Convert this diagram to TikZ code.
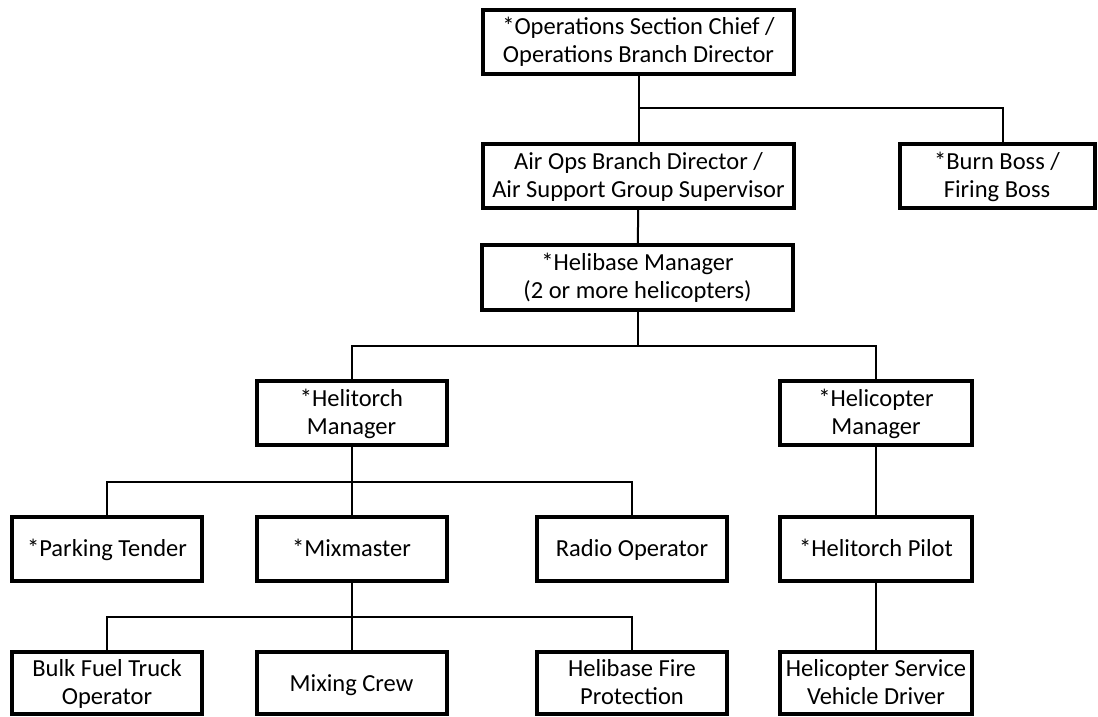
\documentclass[tikz,border=0pt]{standalone}
\usepackage{fontspec}
\setmainfont{Carlito}
\begin{document}
\begin{tikzpicture}[x=1pt,y=-1pt,
        box/.style={draw,line width=4pt,align=center,inner sep=0pt,
            minimum height=64pt,font=\fontsize{24.5}{28}\selectfont,
            text height=24pt,text depth=8pt},
        twoline/.style={text height=50pt},
        wide/.style={box,twoline,minimum width=311pt},
        small/.style={box,minimum width=190pt},
        link/.style={line width=2pt}]
\useasboundingbox (0,0) rectangle (1098,717);

\node[wide] (ops) at (638.5,42) {*Operations Section Chief /\\Operations Branch Director};
\node[wide] (airops) at (638.5,176) {Air Ops Branch Director /\\Air Support Group Supervisor};
\node[box,twoline,minimum width=195pt] (burn) at (997,176) {*Burn Boss /\\Firing Boss};
\node[wide,minimum height=65pt] (helibase) at (637.5,277.5) {*Helibase Manager\\(2 or more helicopters)};

\node[small,twoline] (helitorch) at (351.5,413) {*Helitorch\\Manager};
\node[small,twoline,minimum width=192pt] (helimgr) at (876,413) {*Helicopter\\Manager};

\node[small] (parking) at (107,548.5) {*Parking Tender};
\node[small] (mixmaster) at (351.5,548.5) {*Mixmaster};
\node[small] (radio) at (632,548.5) {Radio Operator};
\node[small,minimum width=192pt] (pilot) at (876,548.5) {*Helitorch Pilot};

\node[small,twoline,minimum height=62pt] (bulk) at (107,683) {Bulk Fuel Truck\\Operator};
\node[small,minimum height=62pt] (mixing) at (351.5,683) {Mixing Crew};
\node[small,twoline,minimum height=62pt] (fire) at (632,683) {Helibase Fire\\Protection};
\node[small,twoline,minimum width=192pt,minimum height=62pt] (service) at (876,683) {Helicopter Service\\Vehicle Driver};

% junction heights
\coordinate (j1) at (0,108);
\coordinate (j2) at (0,346);
\coordinate (j3) at (0,482);
\coordinate (j4) at (0,617);

\draw[link] (ops) -- (airops);
\draw[link] (ops.south |- j1) -| ([xshift=6pt]burn.north);
\draw[link] (airops) -- (helibase);

\draw[link] (helibase.south) -- (helibase.south |- j2);
\draw[link] (helitorch.north) |- (helibase.south |- j2) -| (helimgr.north);

\draw[link] (helitorch) -- (mixmaster);
\draw[link] (parking.north) |- (helitorch.south |- j3) -| (radio.north);
\draw[link] (helimgr) -- (pilot);

\draw[link] (mixmaster) -- (mixing);
\draw[link] (bulk.north) |- (mixmaster.south |- j4) -| (fire.north);
\draw[link] (pilot) -- (service);
\end{tikzpicture}
\end{document}
